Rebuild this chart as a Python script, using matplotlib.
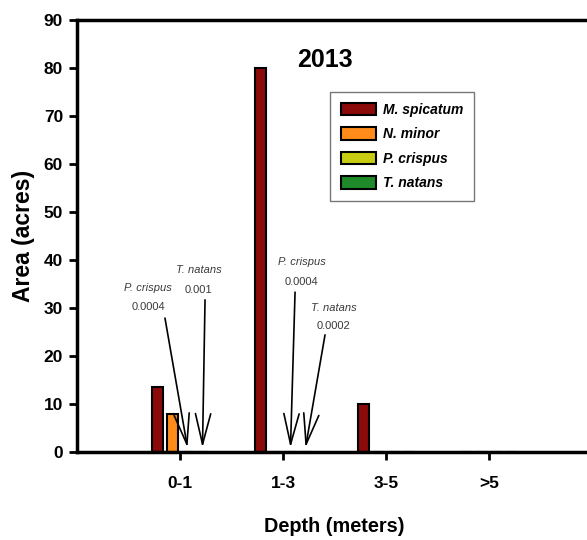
import matplotlib
matplotlib.use("Agg")
import matplotlib.pyplot as plt
import numpy as np

plt.rcParams['font.family'] = ['Liberation Sans', 'DejaVu Sans']

categories = ["0-1", "1-3", "3-5", ">5"]
species = ["M. spicatum", "N. minor", "P. crispus", "T. natans"]
m_spicatum = [13.5, 80.0, 10.0, 0.0]
n_minor = [8.0, 0.0, 0.0, 0.0]
p_crispus = [0.0004, 0.0004, 0.0, 0.0]
t_natans = [0.001, 0.0002, 0.0, 0.0]
series = [m_spicatum, n_minor, p_crispus, t_natans]
colors = ["#8b0a0a", "#ff8c1a", "#c8cc10", "#1f8a2a"]

fig = plt.figure(figsize=(5.87, 5.40), dpi=100)
ax = fig.add_axes([77/587, 1-452/540, (592-77)/587, (452-20)/540])

x = np.arange(len(categories))
step = 0.1456
w = 0.112
offsets = [-1.5*step, -0.5*step, 0.5*step, 1.5*step]
for vals, c, off, name in zip(series, colors, offsets, species):
    ax.bar(x + off, vals, width=w, color=c, edgecolor='black', linewidth=1.5, label=name, zorder=2)

ax.set_xlim(-1, 4)
ax.set_ylim(0, 90)
ax.set_yticks(np.arange(0, 91, 10))
ax.set_xticks(x)
ax.set_xticklabels(categories)
for lbl in ax.get_xticklabels() + ax.get_yticklabels():
    lbl.set_fontweight('bold')
    lbl.set_fontsize(12.5)
ax.tick_params(axis='both', direction='out', length=6, width=2, color='black', pad=4)
ax.tick_params(axis='x', pad=11)
for s in ['left', 'bottom', 'top']:
    ax.spines[s].set_linewidth(2.5)
ax.spines['right'].set_visible(False)

ax.set_ylabel("Area (acres)", fontsize=16.5, fontweight='bold', labelpad=6)
ax.set_xlabel("Depth (meters)", fontsize=14.3, fontweight='bold', labelpad=19)

ax.text(1.41, 81.6, "2013", fontsize=18, fontweight='bold', ha='center', va='center')

leg = ax.legend(loc='upper left', bbox_to_anchor=(0.491, 0.834), frameon=True, fancybox=False,
                edgecolor='#555555', prop={'weight': 'bold', 'style': 'italic', 'size': 10},
                handlelength=2.5, handleheight=1.0, labelspacing=0.75, borderpad=0.8,
                handletextpad=0.5, borderaxespad=0)
leg.get_frame().set_linewidth(1.0)

# annotations: (label, value, series index, category index, text x, name y, value y, arrow start)
annots = [
    ("P. crispus", "0.0004", 2, 0, -0.31, 34.2, 30.2, (-0.146, 27.9)),
    ("T. natans", "0.001", 3, 0, 0.18, 37.9, 33.75, (0.243, 31.7)),
    ("P. crispus", "0.0004", 2, 1, 1.18, 39.6, 35.4, (1.117, 33.3)),
    ("T. natans", "0.0002", 3, 1, 1.495, 30.0, 26.25, (1.408, 24.4)),
]
for name, val, si, ci, tx, ny, vy, start in annots:
    ax.text(tx, ny, name, fontsize=8, style='italic', color='#3a3a3a', ha='center', va='center')
    ax.text(tx, vy, val, fontsize=8, color='#3a3a3a', ha='center', va='center')
    tip = (ci + offsets[si], series[si][ci] + 0.9)
    ax.annotate("", xy=tip, xytext=start,
                arrowprops=dict(arrowstyle='->,head_length=2.2,head_width=0.55', color='black', lw=1.2,
                                shrinkA=0, shrinkB=0))

fig.savefig("out.png", dpi=100)
